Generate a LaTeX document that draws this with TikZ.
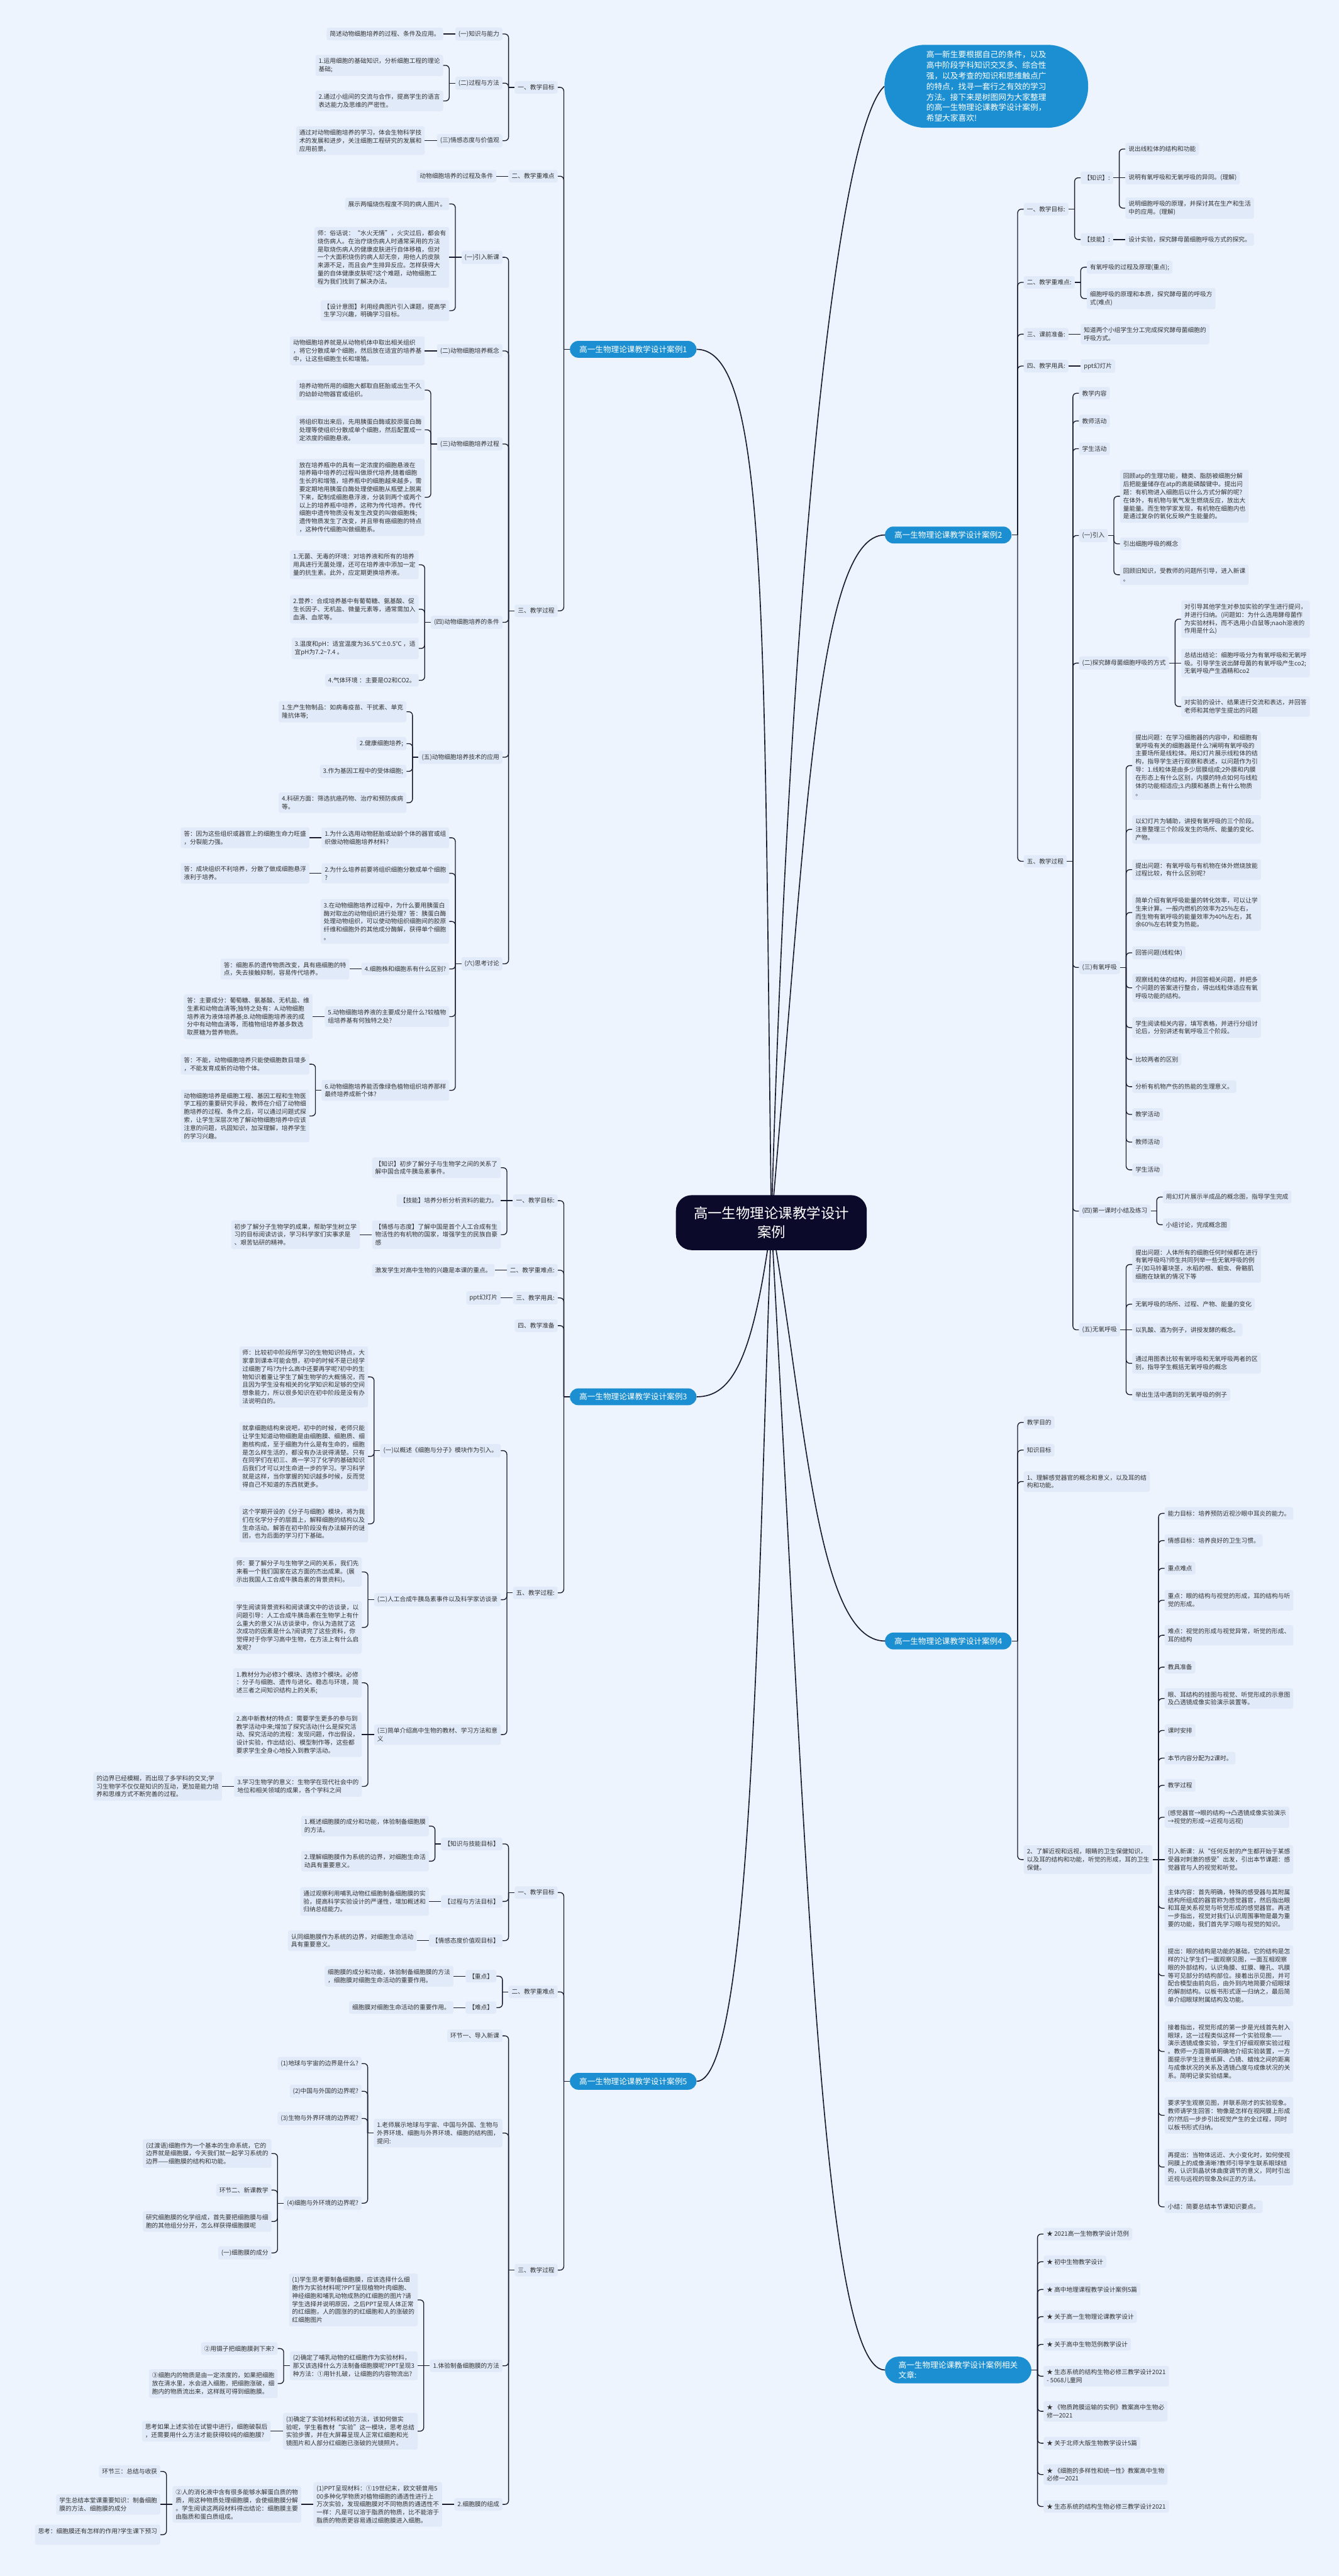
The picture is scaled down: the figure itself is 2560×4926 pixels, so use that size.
\documentclass[tikz,border=0pt]{standalone}
\usepackage{fontspec}
\setmainfont{Noto Sans CJK SC}
\usetikzlibrary{backgrounds}
\definecolor{bgc}{HTML}{EEF4FE}
\definecolor{boxc}{HTML}{E1EAF9}
\definecolor{txt}{HTML}{333333}
\definecolor{casec}{HTML}{1B8FD2}
\definecolor{linec}{HTML}{1A1A2E}
\definecolor{centerc}{HTML}{0C0A2B}
\newcommand\fs{\fontsize{11.7}{15.4}\selectfont}
\newcommand\fcase{\fontsize{15.2}{19}\selectfont}
\newcommand\fintro{\fontsize{15.3}{20.4}\selectfont}
\newcommand\fcenter{\fontsize{27}{36}\selectfont}
\tikzset{
 leaf/.style={fill=boxc, rounded corners=4pt, inner xsep=6pt, inner ysep=6.5pt, align=left, font=\fs, text=txt},
 casebox/.style={fill=casec, rounded corners=16pt, text=white, font=\fcase, inner xsep=18pt, inner ysep=9pt},
 conn/.style={draw=linec, line width=1.6pt, rounded corners=7pt},
 mainc/.style={draw=linec, line width=2pt},
}
\newcommand\LN[4]{\node[leaf,anchor=east,xshift=-23pt] (#1) at (#2.west |- 0,#3) {#4};}
\newcommand\RN[4]{\node[leaf,anchor=west,xshift=23pt] (#1) at (#2.east |- 0,#3) {#4};}
\newcommand\brL[2]{\draw[conn] (#1.west) -- ++(-11.5,0) coordinate (jj);
 \foreach \c in {#2}{\draw[conn] (jj) |- (\c.east);}}
\newcommand\brR[2]{\draw[conn] (#1.east) -- ++(11.5,0) coordinate (jj);
 \foreach \c in {#2}{\draw[conn] (jj) |- (\c.west);}}
\newcommand\stL[1]{\draw[conn] (jj) -- (#1.east);}
\newcommand\stR[1]{\draw[conn] (jj) -- (#1.west);}
\newcommand\lnL[2]{\draw[conn] (#1.west) -- (#2.east);}
\newcommand\lnR[2]{\draw[conn] (#1.east) -- (#2.west);}
\begin{document}
\begin{tikzpicture}[x=1pt,y=-1pt]
\useasboundingbox (0,0) rectangle (2560,4926);
% ---------- center and main nodes
\node[fill=centerc, text=white, font=\fcenter, align=center, rounded corners=30pt, inner xsep=34pt, inner ysep=22pt] (ctr) at (1475,2338) {高一生物理论课教学设计\\案例};
\node[fill=casec, text=white, font=\fintro, align=left, rounded corners=78pt, inner xsep=80pt, inner ysep=11pt, anchor=west] (intro) at (1691,165) {高一新生要根据自己的条件，以及\\高中阶段学科知识交叉多、综合性\\强，以及考查的知识和思维触点广\\的特点，找寻一套行之有效的学习\\方法。接下来是树图网为大家整理\\的高一生物理论课教学设计案例，\\希望大家喜欢!};
\node[casebox, anchor=east] (c1) at (1332,668) {高一生物理论课教学设计案例1};
\node[casebox, anchor=east] (c3) at (1332,2671) {高一生物理论课教学设计案例3};
\node[casebox, anchor=east] (c5) at (1332,3980) {高一生物理论课教学设计案例5};
\node[casebox, anchor=west] (c2) at (1692,1023) {高一生物理论课教学设计案例2};
\node[casebox, anchor=west] (c4) at (1692,3138) {高一生物理论课教学设计案例4};
\node[casebox, anchor=west, align=left, inner xsep=26pt, rounded corners=26pt] (c6) at (1692,4532) {高一生物理论课教学设计案例相关\\文章:};
% ---------- case 1
\LN{a1}{c1}{167}{一、教学目标}
\LN{a2}{c1}{337}{二、教学重难点}
\LN{a3}{c1}{1168}{三、教学过程}
\brL{c1}{a1,a2,a3}
\LN{a11}{a1}{65}{(一)知识与能力}
\LN{a12}{a1}{159}{(二)过程与方法}
\LN{a13}{a1}{269}{(三)情感态度与价值观}
\brL{a1}{a11,a12,a13}
\LN{a111}{a11}{65}{简述动物细胞培养的过程、条件及应用。}\lnL{a11}{a111}
\LN{a121}{a12}{125}{1.运用细胞的基础知识，分析细胞工程的理论\\基础;}
\LN{a122}{a12}{193}{2.通过小组间的交流与合作，提高学生的语言\\表达能力及思维的严密性。}
\brL{a12}{a121,a122}
\LN{a131}{a13}{269}{通过对动物细胞培养的学习，体会生物科学技\\术的发展和进步，关注细胞工程研究的发展和\\应用前景。}\lnL{a13}{a131}
\LN{a21}{a2}{337}{动物细胞培养的过程及条件}\lnL{a2}{a21}
\LN{b1}{a3}{492}{(一)引入新课}
\LN{b2}{a3}{671}{(二)动物细胞培养概念}
\LN{b3}{a3}{849}{(三)动物细胞培养过程}
\LN{b4}{a3}{1190}{(四)动物细胞培养的条件}
\LN{b5}{a3}{1448}{(五)动物细胞培养技术的应用}
\LN{b6}{a3}{1843}{(六)思考讨论}
\brL{a3}{b1,b2,b3,b4,b5,b6}
\LN{b11}{b1}{390}{展示两幅烧伤程度不同的病人图片。}
\LN{b12}{b1}{492}{师：俗话说：“水火无情”，火灾过后，都会有\\烧伤病人。在治疗烧伤病人时通常采用的方法\\是取烧伤病人的健康皮肤进行自体移植，但对\\一个大面积烧伤的病人却无奈，用他人的皮肤\\来源不足，而且会产生排异反应。怎样获得大\\量的自体健康皮肤呢?这个难题，动物细胞工\\程为我们找到了解决办法。}
\LN{b13}{b1}{594}{【设计意图】利用经典图片引入课题，提高学\\生学习兴趣，明确学习目标。}
\brL{b1}{b11,b13}\stL{b12}
\LN{b21}{b2}{671}{动物细胞培养就是从动物机体中取出相关组织\\，将它分散成单个细胞，然后放在适宜的培养基\\中，让这些细胞生长和增殖。}\lnL{b2}{b21}
\LN{b31}{b3}{746}{培养动物所用的细胞大都取自胚胎或出生不久\\的幼龄动物器官或组织。}
\LN{b32}{b3}{822}{将组织取出来后，先用胰蛋白酶或胶原蛋白酶\\处理等使组织分散成单个细胞，然后配置成一\\定浓度的细胞悬液。}
\LN{b33}{b3}{951}{放在培养瓶中的具有一定浓度的细胞悬液在\\培养箱中培养的过程叫做原代培养;随着细胞\\生长的和增殖，培养瓶中的细胞越来越多，需\\要定期地用胰蛋白酶处理使细胞从瓶壁上脱离\\下来，配制成细胞悬浮液，分装到两个或两个\\以上的培养瓶中培养，这称为传代培养。传代\\细胞中遗传物质没有发生改变的叫做细胞株;\\遗传物质发生了改变，并且带有癌细胞的特点\\，这种传代细胞叫做细胞系。}
\brL{b3}{b31,b32,b33}
\LN{b41}{b4}{1080}{1.无菌、无毒的环境：对培养液和所有的培养\\用具进行无菌处理，还可在培养液中添加一定\\量的抗生素。此外，应定期更换培养液。}
\LN{b42}{b4}{1165}{2.营养：合成培养基中有葡萄糖、氨基酸、促\\生长因子、无机盐、微量元素等，通常需加入\\血清、血浆等。}
\LN{b43}{b4}{1240}{3.温度和pH：适宜温度为36.5℃±0.5℃ ，适\\宜pH为7.2\textasciitilde7.4 。}
\LN{b44}{b4}{1301}{4.气体环境 ：主要是O2和CO2。}
\brL{b4}{b41,b42,b43,b44}
\LN{b51}{b5}{1361}{1.生产生物制品：如病毒疫苗、干扰素、单克\\隆抗体等;}
\LN{b52}{b5}{1422}{2.健康细胞培养;}
\LN{b53}{b5}{1475}{3.作为基因工程中的受体细胞;}
\LN{b54}{b5}{1535}{4.科研方面：筛选抗癌药物、治疗和预防疾病\\等。}
\brL{b5}{b51,b52,b53,b54}
\LN{q1}{b6}{1602}{1.为什么选用动物胚胎或幼龄个体的器官或组\\织做动物细胞培养材料?}
\LN{q2}{b6}{1670}{2.为什么培养前要将组织细胞分散成单个细胞\\?}
\LN{q3}{b6}{1762}{3.在动物细胞培养过程中，为什么要用胰蛋白\\酶对取出的动物组织进行处理？答：胰蛋白酶\\处理动物组织，可以使动物组织细胞间的胶原\\纤维和细胞外的其他成分酶解，获得单个细胞\\。}
\LN{q4}{b6}{1853}{4.细胞株和细胞系有什么区别?}
\LN{q5}{b6}{1944}{5.动物细胞培养液的主要成分是什么?较植物\\组培养基有何独特之处?}
\LN{q6}{b6}{2085}{6.动物细胞培养能否像绿色植物组织培养那样\\最终培养成新个体?}
\brL{b6}{q1,q2,q3,q4,q5,q6}
\LN{q11}{q1}{1602}{答：因为这些组织或器官上的细胞生命力旺盛\\，分裂能力强。}\lnL{q1}{q11}
\LN{q21}{q2}{1670}{答：成块组织不利培养，分散了做成细胞悬浮\\液利于培养。}\lnL{q2}{q21}
\LN{q41}{q4}{1853}{答：细胞系的遗传物质改变，具有癌细胞的特\\点，失去接触抑制，容易传代培养。}\lnL{q4}{q41}
\LN{q51}{q5}{1944}{答：主要成分：葡萄糖、氨基酸、无机盐、维\\生素和动物血清等;独特之处有：A.动物细胞\\培养液为液体培养基;B.动物细胞培养液的成\\分中有动物血清等，而植物组培养基多数选\\取蔗糖为营养物质。}\lnL{q5}{q51}
\LN{q61}{q6}{2035}{答：不能，动物细胞培养只能使细胞数目增多\\，不能发育成新的动物个体。}
\LN{q62}{q6}{2134}{动物细胞培养是细胞工程、基因工程和生物医\\学工程的重要研究手段，教师在介绍了动物细\\胞培养的过程、条件之后，可以通过问题式探\\索，让学生深层次地了解动物细胞培养中应该\\注意的问题，巩固知识，加深理解，培养学生\\的学习兴趣。}
\brL{q6}{q61,q62}
% ---------- case 3
\LN{d1}{c3}{2296}{一、教学目标:}
\LN{d2}{c3}{2429}{二、教学重难点:}
\LN{d3}{c3}{2482}{三、教学用具:}
\LN{d4}{c3}{2535}{四、教学准备}
\LN{d5}{c3}{3046}{五、教学过程:}
\brL{c3}{d1,d2,d3,d4,d5}
\LN{d11}{d1}{2233}{【知识】初步了解分子与生物学之间的关系了\\解中国合成牛胰岛素事件。}
\LN{d12}{d1}{2296}{【技能】培养分析分析资料的能力。}
\LN{d13}{d1}{2361}{【情感与态度】了解中国是首个人工合成有生\\物活性的有机物的国家，增强学生的民族自豪\\感}
\brL{d1}{d11,d13}\stL{d12}
\LN{d131}{d13}{2361}{初步了解分子生物学的成果，帮助学生树立学\\习的目标阅读访谈，学习科学家们实事求是\\、艰苦钻研的精神。}\lnL{d13}{d131}
\LN{d21}{d2}{2429}{激发学生对高中生物的兴趣是本课的重点。}\lnL{d2}{d21}
\LN{d31}{d3}{2482}{ppt幻灯片}\lnL{d3}{d31}
\LN{d51}{d5}{2774}{(一)以概述《细胞与分子》模块作为引入。}
\LN{d52}{d5}{3059}{(二)人工合成牛胰岛素事件以及科学家访谈录}
\LN{d53}{d5}{3317}{(三)简单介绍高中生物的教材、学习方法和意\\义}
\brL{d5}{d51,d52,d53}
\LN{d511}{d51}{2633}{师：比较初中阶段所学习的生物知识特点，大\\家拿到课本可能会想，初中的时候不是已经学\\过细胞了吗?为什么高中还要再学呢?初中的生\\物知识着重让学生了解生物学的大概情况，而\\且因为学生没有相关的化学知识和足够的空间\\想象能力，所以很多知识在初中阶段是没有办\\法说明白的。}
\LN{d512}{d51}{2785}{就拿细胞结构来说吧，初中的时候，老师只能\\让学生知道动物细胞是由细胞膜、细胞质、细\\胞核构成，至于细胞为什么是有生命的，细胞\\是怎么样生活的，都没有办法说得清楚。只有\\在同学们在初三、高一学习了化学的基础知识\\后我们才可以对生命进一步的学习。学习科学\\就是这样，当你掌握的知识越多时候，反而觉\\得自己不知道的东西就更多。}
\LN{d513}{d51}{2914}{这个学期开设的《分子与细胞》模块，将为我\\们在化学分子的层面上，解释细胞的结构以及\\生命活动。解答在初中阶段没有办法解开的谜\\团，也为后面的学习打下基础。}
\brL{d51}{d511,d512,d513}
\LN{d521}{d52}{3006}{师：要了解分子与生物学之间的关系，我们先\\来看一个我们国家在这方面的杰出成果。(展\\示出我国人工合成牛胰岛素的背景资料)。}
\LN{d522}{d52}{3112}{学生阅读背景资料和阅读课文中的访谈录，以\\问题引导：人工合成牛胰岛素在生物学上有什\\么重大的意义?从访谈录中，你认为造就了这\\次成功的因素是什么?阅读完了这些资料，你\\觉得对于你学习高中生物，在方法上有什么启\\发呢?}
\brL{d52}{d521,d522}
\LN{d531}{d53}{3218}{1.教材分为必修3个模块、选修3个模块。必修\\：分子与细胞、遗传与进化、稳态与环境，简\\述三者之间知识结构上的关系;}
\LN{d532}{d53}{3317}{2.高中新教材的特点：需要学生更多的参与到\\教学活动中来;增加了探究活动(什么是探究活\\动、探究活动的流程：发现问题，作出假设，\\设计实验，作出结论)、模型制作等，这些都\\要求学生全身心地投入到教学活动。}
\LN{d533}{d53}{3416}{3.学习生物学的意义：生物学在现代社会中的\\地位和相关领域的成果，各个学科之间}
\brL{d53}{d531,d533}\stL{d532}
\LN{d5331}{d533}{3416}{的边界已经模糊，而出现了多学科的交叉;学\\习生物学不仅仅是知识的互动，更加是能力培\\养和思维方式不断完善的过程。}\lnL{d533}{d5331}
% ---------- case 5
\LN{e1}{c5}{3619}{一、教学目标}
\LN{e2}{c5}{3809}{二、教学重难点}
\LN{e3}{c5}{4341}{三、教学过程}
\brL{c5}{e1,e2,e3}
\LN{e11}{e1}{3526}{【知识与技能目标】}
\LN{e12}{e1}{3636}{【过程与方法目标】}
\LN{e13}{e1}{3711}{【情感态度价值观目标】}
\brL{e1}{e11,e12,e13}
\LN{e111}{e11}{3492}{1.概述细胞膜的成分和功能，体验制备细胞膜\\的方法。}
\LN{e112}{e11}{3559}{2.理解细胞膜作为系统的边界，对细胞生命活\\动具有重要意义。}
\brL{e11}{e111,e112}
\LN{e121}{e12}{3636}{通过观察利用哺乳动物红细胞制备细胞膜的实\\验，提高科学实验设计的严谨性，增加概述和\\归纳总结能力。}\lnL{e12}{e121}
\LN{e131}{e13}{3711}{认同细胞膜作为系统的边界，对细胞生命活动\\具有重要意义。}\lnL{e13}{e131}
\LN{e21}{e2}{3779}{【重点】}
\LN{e22}{e2}{3839}{【难点】}
\brL{e2}{e21,e22}
\LN{e211}{e21}{3779}{细胞膜的成分和功能，体验制备细胞膜的方法\\，细胞膜对细胞生命活动的重要作用。}\lnL{e21}{e211}
\LN{e221}{e22}{3839}{细胞膜对细胞生命活动的重要作用。}\lnL{e22}{e221}
\LN{e31}{e3}{3893}{环节一、导入新课}
\LN{e32}{e3}{4079}{1.老师展示地球与宇宙、中国与外国、生物与\\外界环境、细胞与外界环境、细胞的结构图，\\提问:}
\LN{e33}{e3}{4524}{1.体验制备细胞膜的方法}
\LN{e34}{e3}{4789}{2.细胞膜的组成}
\brL{e3}{e31,e32,e33,e34}
\LN{e321}{e32}{3946}{(1)地球与宇宙的边界是什么?}
\LN{e322}{e32}{3999}{(2)中国与外国的边界呢?}
\LN{e323}{e32}{4051}{(3)生物与外界环境的边界呢?}
\LN{e324}{e32}{4213}{(4)细胞与外环境的边界呢?}
\brL{e32}{e321,e322,e323,e324}
\LN{e3241}{e324}{4118}{(过渡语)细胞作为一个基本的生命系统，它的\\边界就是细胞膜，今天我们就一起学习系统的\\边界——细胞膜的结构和功能。}
\LN{e3242}{e324}{4188}{环节二、新课教学}
\LN{e3243}{e324}{4248}{研究细胞膜的化学组成，首先要把细胞膜与细\\胞的其他组分分开，怎么样获得细胞膜呢}
\LN{e3244}{e324}{4308}{(一)细胞膜的成分}
\brL{e324}{e3241,e3242,e3243,e3244}
\LN{e331}{e33}{4398}{(1)学生思考要制备细胞膜，应该选择什么细\\胞作为实验材料呢?PPT呈现植物叶肉细胞、\\神经细胞和哺乳动物成熟的红细胞的图片?请\\学生选择并说明原因，之后PPT呈现人体正常\\的红细胞，人的圆涨的的红细胞和人的涨破的\\红细胞图片}
\LN{e332}{e33}{4524}{(2)确定了哺乳动物的红细胞作为实验材料，\\那又该选择什么方法制备细胞膜呢?PPT呈现3\\种方法：①用针扎破，让细胞的内容物流出?}
\LN{e333}{e33}{4649}{(3)确定了实验材料和试验方法，该如何做实\\验呢，学生看教材“实验”这一模块，思考总结\\实验步骤，并在大屏幕呈现人正常红细胞和光\\镜图片和人部分红细胞已涨破的光镜照片。}
\brL{e33}{e331,e333}\stL{e332}
\LN{e3321}{e332}{4491}{②用镊子把细胞膜剥下来?}
\LN{e3322}{e332}{4558}{③细胞内的物质是由一定浓度的，如果把细胞\\放在清水里，水会进入细胞，把细胞涨破，细\\胞内的物质流出来，这样既可得到细胞膜。}
\brL{e332}{e3321,e3322}
\LN{e3331}{e333}{4649}{思考如果上述实验在试管中进行，细胞破裂后\\，还需要用什么方法才能获得较纯的细胞膜?}\lnL{e333}{e3331}
\LN{e341}{e34}{4789}{(1)PPT呈现材料：①19世纪末，欧文顿曾用5\\00多种化学物质对植物细胞的通透性进行上\\万次实验，发现细胞膜对不同物质的通透性不\\一样：凡是可以溶于脂质的物质，比不能溶于\\脂质的物质更容易通过细胞膜进入细胞。}\lnL{e34}{e341}
\LN{e3411}{e341}{4789}{②人的消化液中含有很多能够水解蛋白质的物\\质，用这种物质处理细胞膜，会使细胞膜分解\\。学生阅读这两段材料得出结论：细胞膜主要\\由脂质和蛋白质组成。}\lnL{e341}{e3411}
\LN{e41}{e3411}{4726}{环节三：总结与收获}
\LN{e42}{e3411}{4789}{学生总结本堂课重要知识：制备细胞\\膜的方法、细胞膜的成分}
\LN{e43}{e3411}{4847}{思考：细胞膜还有怎样的作用?学生课下预习\\}
\brL{e3411}{e41,e43}\stL{e42}
% ---------- case 2
\RN{f1}{c2}{400}{一、教学目标:}
\RN{f2}{c2}{540}{二、教学重难点:}
\RN{f3}{c2}{639}{三、课前准备:}
\RN{f4}{c2}{700}{四、教学用具:}
\RN{f5}{c2}{1647}{五、教学过程}
\brR{c2}{f1,f2,f3,f4,f5}
\RN{f11}{f1}{340}{【知识】:}
\RN{f12}{f1}{458}{【技能】:}
\brR{f1}{f11,f12}
\RN{f111}{f11}{285}{说出线粒体的结构和功能}
\RN{f112}{f11}{340}{说明有氧呼吸和无氧呼吸的异同。(理解)}
\RN{f113}{f11}{398}{说明细胞呼吸的原理，并探讨其在生产和生活\\中的应用。(理解)}
\brR{f11}{f111,f113}\stR{f112}
\RN{f121}{f12}{458}{设计实验，探究酵母菌细胞呼吸方式的探究。}\lnR{f12}{f121}
\RN{f21}{f2}{511}{有氧呼吸的过程及原理(重点);}
\RN{f22}{f2}{571}{细胞呼吸的原理和本质，探究酵母菌的呼吸方\\式(难点)}
\brR{f2}{f21,f22}
\RN{f31}{f3}{639}{知道两个小组学生分工完成探究酵母菌细胞的\\呼吸方式。}\lnR{f3}{f31}
\RN{f41}{f4}{700}{ppt幻灯片}\lnR{f4}{f41}
\RN{f51}{f5}{752}{教学内容}
\RN{f52}{f5}{805}{教师活动}
\RN{f53}{f5}{858}{学生活动}
\RN{f54}{f5}{1024}{(一)引入}
\RN{f55}{f5}{1268}{(二)探究酵母菌细胞呼吸的方式}
\RN{f56}{f5}{1850}{(三)有氧呼吸}
\RN{f57}{f5}{2316}{(四)第一课时小结及练习}
\RN{f58}{f5}{2543}{(五)无氧呼吸}
\brR{f5}{f51,f52,f53,f54,f55,f56,f57,f58}
\RN{f541}{f54}{949}{回顾atp的生理功能，糖类、脂肪被细胞分解\\后把能量储存在atp的高能磷酸键中。提出问\\题：有机物进入细胞后以什么方式分解的呢?\\在体外，有机物与氧气发生燃烧反应，放出大\\量能量。而生物学家发现，有机物在细胞内也\\是通过复杂的氧化反映产生能量的。}
\RN{f542}{f54}{1040}{引出细胞呼吸的概念}
\RN{f543}{f54}{1099}{回顾旧知识，受教师的问题所引导，进入新课\\。}
\brR{f54}{f541,f542,f543}
\RN{f551}{f55}{1184}{对引导其他学生对参加实验的学生进行提问，\\并进行归纳。(问题如：为什么选用酵母菌作\\为实验材料，而不选用小白鼠等;naoh溶液的\\作用是什么)}
\RN{f552}{f55}{1268}{总结出结论：细胞呼吸分为有氧呼吸和无氧呼\\吸。引导学生说出酵母菌的有氧呼吸产生co2;\\无氧呼吸产生酒精和co2}
\RN{f553}{f55}{1351}{对实验的设计、结果进行交流和表达，并回答\\老师和其他学生提出的问题}
\brR{f55}{f551,f553}\stR{f552}
\RN{g01}{f56}{1464}{提出问题：在学习细胞器的内容中，和细胞有\\氧呼吸有关的细胞器是什么?阐明有氧呼吸的\\主要场所是线粒体。用幻灯片展示线粒体的结\\构，指导学生进行观察和表述，以问题作为引\\导：1.线粒体是由多少层膜组成;2外膜和内膜\\在形态上有什么区别，内膜的特点如何与线粒\\体的功能相适应;3.内膜和基质上有什么物质\\。}
\RN{g02}{f56}{1586}{以幻灯片为辅助，讲授有氧呼吸的三个阶段。\\注意整理三个阶段发生的场所、能量的变化、\\产物。}
\RN{g03}{f56}{1663}{提出问题：有氧呼吸与有机物在体外燃烧放能\\过程比较，有什么区别呢?}
\RN{g04}{f56}{1745}{简单介绍有氧呼吸能量的转化效率，可以让学\\生来计算。一般内燃机的效率为25\%左右，\\而生物有氧呼吸的能量效率为40\%左右，其\\余60\%左右转变为热能。}
\RN{g05}{f56}{1822}{回答问题(线粒体)}
\RN{g06}{f56}{1889}{观察线粒体的结构，并回答相关问题，并把多\\个问题的答案进行整合，得出线粒体适应有氧\\呼吸功能的结构。}
\RN{g07}{f56}{1965}{学生阅读相关内容，填写表格，并进行分组讨\\论后，分别讲述有氧呼吸三个阶段。}
\RN{g08}{f56}{2026}{比较两者的区别}
\RN{g09}{f56}{2078}{分析有机物产伤的热能的生理意义。}
\RN{g10}{f56}{2131}{教学活动}
\RN{g11}{f56}{2184}{教师活动}
\RN{g12}{f56}{2237}{学生活动}
\brR{f56}{g01,g02,g03,g04,g05,g06,g07,g08,g09,g10,g11,g12}
\RN{f571}{f57}{2289}{用幻灯片展示半成品的概念图，指导学生完成}
\RN{f572}{f57}{2342}{小组讨论，完成概念图}
\brR{f57}{f571,f572}
\RN{f581}{f58}{2418}{提出问题：人体所有的细胞任何时候都在进行\\有氧呼吸吗?师生共同列举一些无氧呼吸的例\\子(如马铃薯块茎，水稻的根、蛔虫、骨骼肌\\细胞在缺氧的情况下等}
\RN{f582}{f58}{2494}{无氧呼吸的场所、过程、产物、能量的变化}
\RN{f583}{f58}{2543}{以乳酸、酒为例子，讲授发酵的概念。}
\RN{f584}{f58}{2607}{通过用图表比较有氧呼吸和无氧呼吸两者的区\\别，指导学生概括无氧呼吸的概念}
\RN{f585}{f58}{2667}{举出生活中遇到的无氧呼吸的例子}
\brR{f58}{f581,f582,f584,f585}\stR{f583}
% ---------- case 4
\RN{h1}{c4}{2720}{教学目的}
\RN{h2}{c4}{2773}{知识目标}
\RN{h3}{c4}{2833}{1、理解感觉器官的概念和意义，以及耳的结\\构和功能。}
\RN{h4}{c4}{3556}{2、了解近视和远视，眼睛的卫生保健知识，\\以及耳的结构和功能，听觉的形成，耳的卫生\\保健。}
\brR{c4}{h1,h2,h3,h4}
\RN{k01}{h4}{2894}{能力目标：培养预防近视沙眼中耳炎的能力。}
\RN{k02}{h4}{2946}{情感目标：培养良好的卫生习惯。}
\RN{k03}{h4}{2999}{重点难点}
\RN{k04}{h4}{3060}{重点：眼的结构与视觉的形成，耳的结构与听\\觉的形成。}
\RN{k05}{h4}{3127}{难点：视觉的形成与视觉异常，听觉的形成、\\耳的结构}
\RN{k06}{h4}{3188}{教具准备}
\RN{k07}{h4}{3248}{眼、耳结构的挂图与视觉、听觉形成的示意图\\及凸透镜成像实验演示装置等。}
\RN{k08}{h4}{3309}{课时安排}
\RN{k09}{h4}{3362}{本节内容分配为2课时。}
\RN{k10}{h4}{3414}{教学过程}
\RN{k11}{h4}{3475}{(感觉器官→眼的结构→凸透镜成像实验演示\\→视觉的形成→近视与远视)}
\RN{k12}{h4}{3556}{引入新课：从“任何反射的产生都开始于某感\\受器对刺激的感受”出发，引出本节课题：感\\觉器官与人的视觉和听觉。}
\RN{k13}{h4}{3649}{主体内容：首先明确，特殊的感受器与其附属\\结构所组成的器官称为感觉器官，然后指出眼\\和耳是关系视觉与听觉形成的感觉器官。再进\\一步指出，视觉对我们认识周围事物是最为重\\要的功能，我们首先学习眼与视觉的知识。}
\RN{k14}{h4}{3778}{提出：眼的结构是功能的基础，它的结构是怎\\样的?让学生们一面观察见图，一面互相观察\\眼的外部结构，认识角膜、虹膜、瞳孔、巩膜\\等可见部分的结构部位。接着出示见图，并可\\配合模型由前向后，由外到内地简要介绍眼球\\的解剖结构。以板书形式逐一归纳之，最后简\\单介绍眼球附属结构及功能。}
\RN{k15}{h4}{3923}{接着指出，视觉形成的第一步是光线首先射入\\眼球，这一过程类似这样一个实验现象——\\演示透镜成像实验，学生们仔细观察实验过程\\。教师一方面简单明确地介绍实验装置，一方\\面提示学生注意纸屏、凸镜、蜡烛之间的距离\\与成像状况的关系及透镜凸度与成像状况的关\\系。简明记录实验结果。}
\RN{k16}{h4}{4045}{要求学生观察见图，并联系刚才的实验现象。\\教师请学生回答：物像是怎样在视网膜上形成\\的?然后一步步引出视觉产生的全过程，同时\\以板书形式归纳。}
\RN{k17}{h4}{4144}{再提出：当物体远近、大小变化时，如何使视\\网膜上的成像清晰?教师引导学生联系眼球结\\构，认识到晶状体曲度调节的意义，同时引出\\近视与远视的现象及纠正的方法。}
\RN{k18}{h4}{4220}{小结：简要总结本节课知识要点。}
\brR{h4}{k01,k02,k03,k04,k05,k06,k07,k08,k09,k10,k11,k13,k14,k15,k16,k17,k18}\stR{k12}
% ---------- case 6
\RN{m01}{c6}{4272}{★ 2021高一生物教学设计范例}
\RN{m02}{c6}{4325}{★ 初中生物教学设计}
\RN{m03}{c6}{4378}{★ 高中地理课程教学设计案例5篇}
\RN{m04}{c6}{4430}{★ 关于高一生物理论课教学设计}
\RN{m05}{c6}{4483}{★ 关于高中生物范例教学设计}
\RN{m06}{c6}{4544}{★ 生态系统的结构生物必修三教学设计2021\\- 5068儿童网}
\RN{m07}{c6}{4611}{★ 《物质跨膜运输的实例》教案高中生物必\\修一2021}
\RN{m08}{c6}{4672}{★ 关于北师大版生物教学设计5篇}
\RN{m09}{c6}{4732}{★ 《细胞的多样性和统一性》教案高中生物\\必修一2021}
\RN{m10}{c6}{4793}{★ 生态系统的结构生物必修三教学设计2021}
\brR{c6}{m01,m02,m03,m04,m05,m06,m07,m08,m09,m10}
% ---------- background and main curves
\begin{pgfonlayer}{background}
\fill[bgc] (0,0) rectangle (2560,4926);
\draw[mainc] (1475,2338) .. controls (1510,1100) and (1600,250) .. (intro.west);
\draw[mainc] (1475,2338) .. controls (1460,1200) and (1470,668) .. (c1.east);
\draw[mainc] (1475,2338) .. controls (1440,2600) and (1400,2671) .. (c3.east);
\draw[mainc] (1475,2338) .. controls (1450,3000) and (1440,3980) .. (c5.east);
\draw[mainc] (1475,2338) .. controls (1540,1600) and (1560,1023) .. (c2.west);
\draw[mainc] (1475,2338) .. controls (1540,2700) and (1560,3138) .. (c4.west);
\draw[mainc] (1475,2338) .. controls (1540,3500) and (1570,4532) .. (c6.west);
\end{pgfonlayer}
\end{tikzpicture}
\end{document}
